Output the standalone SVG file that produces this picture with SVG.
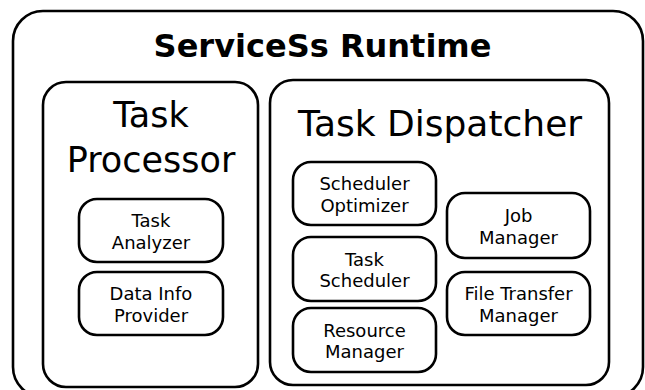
<svg xmlns="http://www.w3.org/2000/svg" width="645" height="390" viewBox="0 0 645 390">
  <style>
    .box { fill: #ffffff; stroke: #000000; stroke-width: 2.6; }
    .t { font-family: "DejaVu Sans", "Liberation Sans", sans-serif; fill: #000000; text-anchor: middle; }
    .title { font-size: 32px; font-weight: bold; }
    .head { font-size: 35px; }
    .head-wide { font-size: 36px; }
    .small { font-size: 18px; }
  </style>
  <rect width="645" height="390" fill="#ffffff"/>

  <g id="runtime">
    <rect class="box" x="13" y="11" width="630" height="386" rx="30"/>
    <text class="t title" x="322.5" y="57">ServiceSs Runtime</text>
  </g>

  <g id="task-processor">
    <rect class="box" x="43" y="82" width="215" height="305" rx="23"/>
    <text class="t head" x="151" y="127">Task</text>
    <text class="t head" x="151" y="172">Processor</text>
  </g>

  <g id="task-analyzer">
    <rect class="box" x="79" y="199" width="144" height="63" rx="18"/>
    <text class="t small" x="151" y="227">Task</text>
    <text class="t small" x="151" y="248.5">Analyzer</text>
  </g>

  <g id="data-info-provider">
    <rect class="box" x="79" y="272" width="144" height="63" rx="18"/>
    <text class="t small" x="151" y="300">Data Info</text>
    <text class="t small" x="151" y="321.5">Provider</text>
  </g>

  <g id="task-dispatcher">
    <rect class="box" x="270" y="80" width="339" height="305" rx="23"/>
    <text class="t head-wide" x="440" y="136">Task Dispatcher</text>
  </g>

  <g id="scheduler-optimizer">
    <rect class="box" x="293" y="162" width="143" height="63" rx="18"/>
    <text class="t small" x="364.5" y="190">Scheduler</text>
    <text class="t small" x="364.5" y="211.5">Optimizer</text>
  </g>

  <g id="task-scheduler">
    <rect class="box" x="293" y="237" width="143" height="64" rx="18"/>
    <text class="t small" x="364.5" y="265.5">Task</text>
    <text class="t small" x="364.5" y="287">Scheduler</text>
  </g>

  <g id="resource-manager">
    <rect class="box" x="293" y="308" width="143" height="64" rx="18"/>
    <text class="t small" x="364.5" y="336.5">Resource</text>
    <text class="t small" x="364.5" y="358">Manager</text>
  </g>

  <g id="job-manager">
    <rect class="box" x="447" y="193" width="143" height="65" rx="18"/>
    <text class="t small" x="518.5" y="222">Job</text>
    <text class="t small" x="518.5" y="243.5">Manager</text>
  </g>

  <g id="file-transfer-manager">
    <rect class="box" x="447" y="272" width="143" height="63" rx="18"/>
    <text class="t small" x="518.5" y="300">File Transfer</text>
    <text class="t small" x="518.5" y="321.5">Manager</text>
  </g>

  <g id="connectors"></g>
</svg>
